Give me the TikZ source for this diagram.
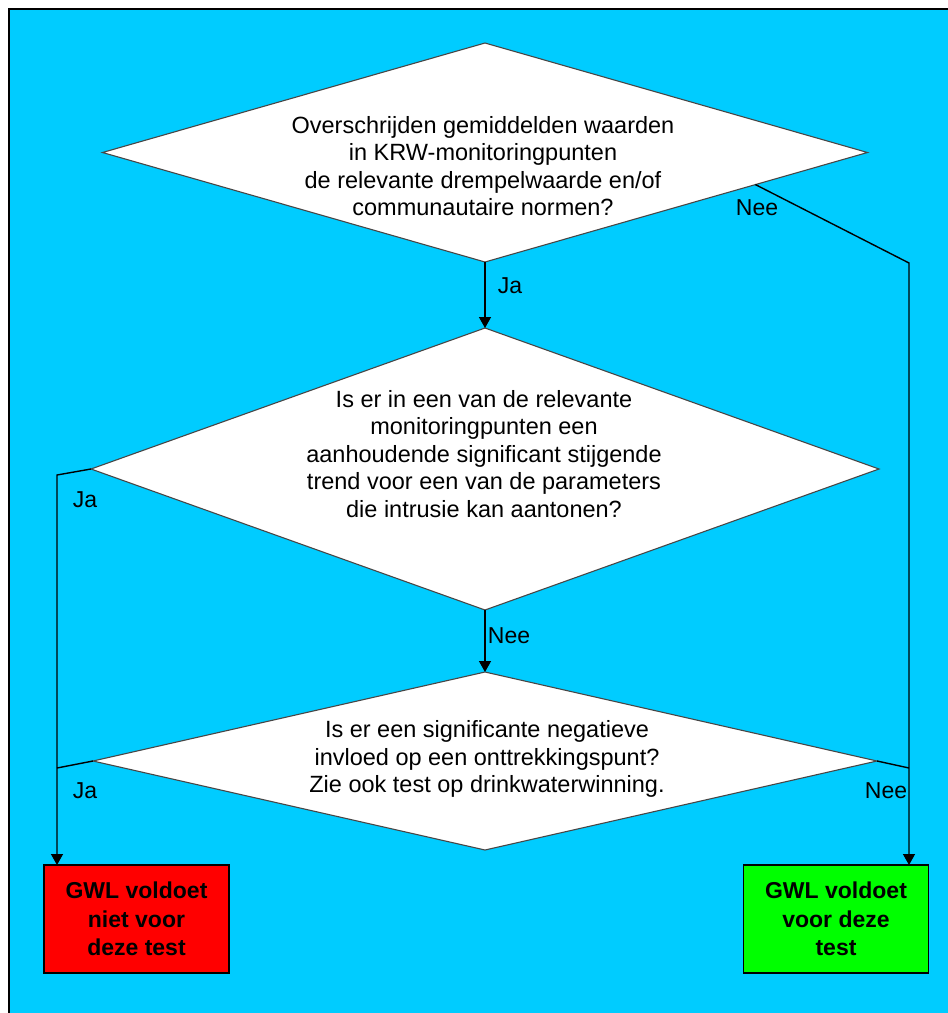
\documentclass[tikz,border=0pt]{standalone}
\usepackage{fontspec}
\setmainfont{Liberation Sans}
\usetikzlibrary{shapes.geometric,arrows.meta,calc}
\definecolor{bgcyan}{RGB}{0,204,255}
\definecolor{dgray}{RGB}{70,70,70}
\tikzset{
  dia/.style={diamond, draw=dgray, line width=1.1pt, fill=white, inner sep=0pt, outer sep=0pt},
  qtext/.style={align=center, font=\fontsize{23.5}{27.5}\selectfont, inner sep=0pt},
  lbl/.style={font=\fontsize{23}{27}\selectfont, inner sep=0pt},
  result/.style={draw=black, line width=1.4pt, minimum width=185pt, minimum height=108pt, inner sep=0pt, outer sep=0pt, align=center, font=\fontsize{23}{28.5}\selectfont\bfseries},
  conn/.style={line width=1.4pt, draw=black},
  arr/.style={conn, -{Triangle[width=12pt,length=11pt]}}
}
\begin{document}
\begin{tikzpicture}[x=1pt,y=1pt]
\useasboundingbox (0,0) rectangle (948,-1013);
\fill[white] (0,0) rectangle (948,-1013);
\fill[bgcyan] (9,-9) rectangle (948,-1013);
\draw[line width=1.5pt] (9,-1013) -- (9,-9) -- (948,-9);
% diamonds
\node[dia, minimum width=765pt, minimum height=219pt] (d1) at (485,-152.5) {};
\node[dia, minimum width=788pt, minimum height=282pt] (d2) at (485,-469) {};
\node[dia, minimum width=784pt, minimum height=178pt] (d3) at (485,-761) {};
\node[qtext] (t1) at (483,-166) {Overschrijden gemiddelden waarden\\in KRW-monitoringpunten\\de relevante drempelwaarde en/of\\communautaire normen?};
\node[qtext] (t2) at (484,-454) {Is er in een van de relevante\\monitoringpunten een\\aanhoudende significant stijgende\\trend voor een van de parameters\\die intrusie kan aantonen?};
\node[qtext] (t3) at (487,-759) {Is er een significante negatieve\\invloed op een onttrekkingspunt?\\Zie ook test op drinkwaterwinning.};
% result boxes
\node[result, fill=red] (r) at (136.5,-919) {GWL voldoet\\niet voor\\deze test};
\node[result, fill=green] (g) at (836,-919) {GWL voldoet\\voor deze\\test};
% bend points
\coordinate (rb1) at (909,-263);
\coordinate (lb1) at (57,-475);
\coordinate (lb2) at (57,-768);
\coordinate (rb2) at (909,-768);
% connectors
\draw[arr] (d1.south) -- (d2.north);
\draw[arr] (d2.south) -- (d3.north);
\draw[arr] ($(d1.east)!0.293!(d1.south)$) -- (rb1) -- (rb1 |- g.north);
\draw[arr] (d2.west) -- (lb1) -- (lb1 |- r.north);
\draw[conn] (d3.west) -- (lb2);
\draw[conn] (d3.east) -- (rb2);
% labels
\node[lbl] (l1) at (510,-286) {Ja};
\node[lbl] (l2) at (757,-208) {Nee};
\node[lbl] (l3) at (85,-500) {Ja};
\node[lbl] (l4) at (509,-636) {Nee};
\node[lbl] (l5) at (85,-791) {Ja};
\node[lbl] (l6) at (886,-791) {Nee};
\end{tikzpicture}
\end{document}
